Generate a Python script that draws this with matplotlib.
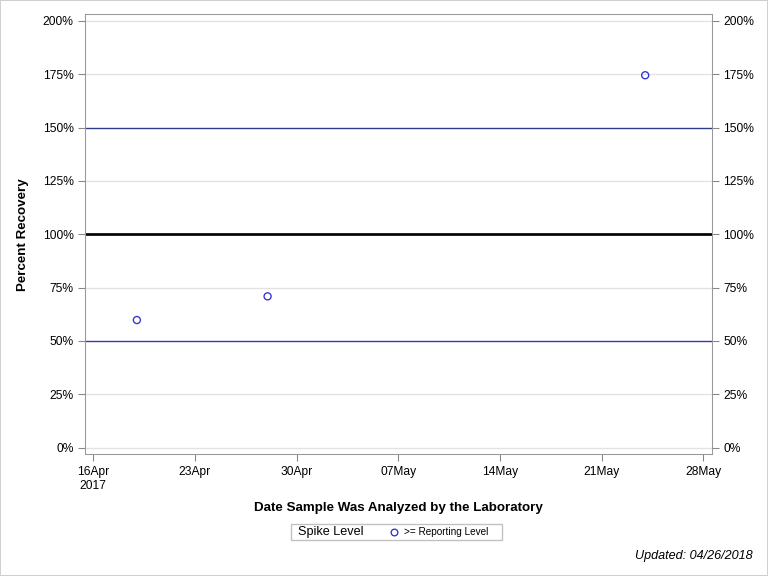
import numpy as np
import pandas as pd
import matplotlib
matplotlib.use('Agg')
import matplotlib.pyplot as plt
import matplotlib.dates as mdates
from matplotlib.patches import Rectangle
from matplotlib.lines import Line2D

plt.rcParams['font.family'] = ['Liberation Sans', 'DejaVu Sans']

# data
sample_dates = pd.to_datetime(['2017-04-19', '2017-04-28', '2017-05-24'])
recovery = [59.8, 70.9, 174.5]
tick_dates = pd.to_datetime(['2017-04-16', '2017-04-23', '2017-04-30', '2017-05-07',
                             '2017-05-14', '2017-05-21', '2017-05-28'])
tick_labels = ['16Apr\n2017', '23Apr', '30Apr', '07May', '14May', '21May', '28May']
y_ticks = [0, 25, 50, 75, 100, 125, 150, 175, 200]
ref_lines = {150: ('#2E3A8C', 1.0), 100: ('black', 2.0), 50: ('#3333CC', 1.0)}

fig = plt.figure(figsize=(8, 6), dpi=96)
ax = fig.add_axes([0.1107, 0.2113, 0.8160, 0.7644])

for y in y_ticks:
    ax.axhline(y, color='#E2E2E2', lw=1, zorder=0)
for y, (c, w) in ref_lines.items():
    ax.axhline(y, color=c, lw=w, zorder=1)

ax.scatter(sample_dates, recovery, s=28, facecolors='none', edgecolors='#3333CC',
           linewidths=1.0, zorder=3)

ax.set_xlim(tick_dates[0] - pd.Timedelta(hours=13.7), tick_dates[-1] + pd.Timedelta(hours=13.9))
ax.set_ylim(-3.1, 203.2)
ax.set_xticks(tick_dates)
ax.set_xticklabels(tick_labels, fontsize=9)
for lbl in ax.get_xticklabels():
    lbl.set_horizontalalignment('center')
    lbl.set_linespacing(1.3)
ax.set_yticks(y_ticks)
ax.set_yticklabels([f'{v}%' for v in y_ticks], fontsize=9)
ax.tick_params(axis='both', color='#888888', length=5, labelcolor='black')
ax.tick_params(axis='y', right=True, labelright=True)
for sp in ax.spines.values():
    sp.set_color('#999999')

W, H = 768, 576
ax.set_ylabel('Percent Recovery', fontsize=10, weight='bold', labelpad=10)
fig.text(398 / W, 1 - 508 / H, 'Date Sample Was Analyzed by the Laboratory', fontsize=10,
         weight='bold', ha='center', va='center')

# legend box drawn by hand in figure pixels
fig.patches.append(Rectangle((291 / W, 1 - 540 / H), 211 / W, 16 / H, transform=fig.transFigure,
                             facecolor='white', edgecolor='#C0C0C0', lw=1))
fig.text(298 / W, 1 - 532 / H, 'Spike Level', fontsize=9.5, va='center')
fig.lines.append(Line2D([394 / W], [1 - 532 / H], transform=fig.transFigure, marker='o',
                        markersize=5, markerfacecolor='none', markeredgecolor='#3333CC', lw=0))
fig.text(404 / W, 1 - 532 / H, '>= Reporting Level', fontsize=7.5, va='center')

fig.text(753 / W, 1 - 556 / H, 'Updated: 04/26/2018', fontsize=9.5, style='italic',
         ha='right', va='center')

# outer frame
fig.patches.append(Rectangle((0, 0), 1, 1, transform=fig.transFigure, facecolor='none',
                             edgecolor='#D0D0D0', lw=1.5))

fig.savefig('out.png', dpi=96)
